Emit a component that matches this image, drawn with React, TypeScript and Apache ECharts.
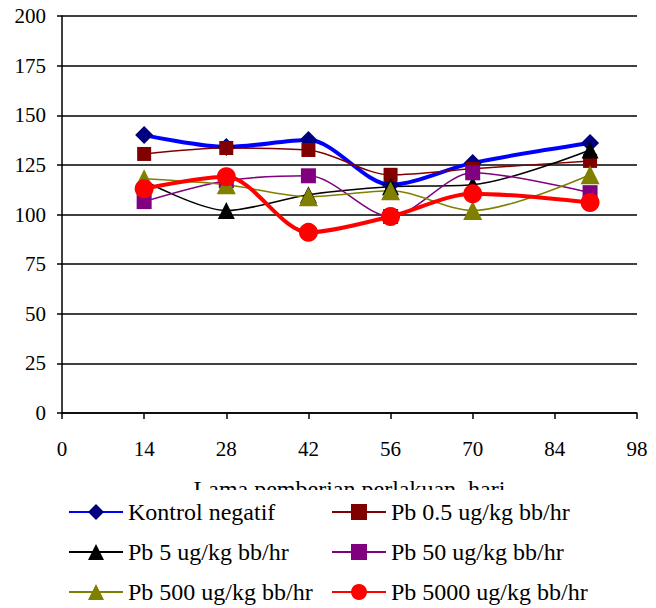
import React, { useEffect, useRef } from "react";
import * as echarts from "echarts";

const days = [14, 28, 42, 56, 70, 90];
const kontrolNegatif = [140, 134, 137.5, 115, 126, 136];
const pb05 = [130.5, 133.5, 132.5, 120, 123, 127];
const pb5 = [117, 102, 110, 114, 115, 132.5];
const pb50 = [106.5, 117, 119.5, 99, 121, 111];
const pb500 = [118, 115, 109, 112, 102, 120];
const pb5000 = [113, 119, 91, 99, 110.5, 106];

const seriesNames = [
  "Kontrol negatif",
  "Pb 0.5 ug/kg bb/hr",
  "Pb 5 ug/kg bb/hr",
  "Pb 50 ug/kg bb/hr",
  "Pb 500 ug/kg bb/hr",
  "Pb 5000 ug/kg bb/hr",
];
const xTitle = "Lama pemberian perlakuan, hari";

const FONT = "Liberation Serif";

export default function App() {
  const ref = useRef<HTMLDivElement>(null);
  useEffect(() => {
    if (!ref.current) return;
    const chart = echarts.init(ref.current, undefined, { renderer: "svg" });
    const pairs = (vals: number[]) => days.map((d, i) => [d, vals[i]]);
    const mk = (
      name: string,
      vals: number[],
      lineColor: string,
      markColor: string,
      symbol: string,
      size: number,
      width: number
    ) => ({
      name,
      type: "line",
      data: pairs(vals),
      smooth: 0.3,
      symbol,
      symbolSize: size,
      lineStyle: { color: lineColor, width },
      itemStyle: { color: markColor },
      emphasis: { disabled: true },
    });
    const legendBase = {
      orient: "vertical",
      itemWidth: 54,
      itemHeight: 20,
      itemGap: 16,
      padding: 0,
      textStyle: { fontFamily: FONT, fontSize: 24, color: "#000", lineHeight: 24 },
      selectedMode: false,
      z: 10,
    };
    chart.setOption({
      animation: false,
      textStyle: { fontFamily: FONT },
      grid: { left: 62, right: 19, top: 16, bottom: 195 },
      xAxis: {
        type: "value",
        min: 0,
        max: 98,
        interval: 14,
        name: xTitle,
        nameLocation: "middle",
        nameGap: 64,
        nameTextStyle: { fontFamily: FONT, fontSize: 24, color: "#000", verticalAlign: "top" },
        axisLine: { show: true, lineStyle: { color: "#000", width: 1.5 } },
        axisTick: { show: true, length: 6, lineStyle: { color: "#000", width: 1.5 } },
        axisLabel: { fontFamily: FONT, fontSize: 21, color: "#000", margin: 25 },
        splitLine: { show: false },
      },
      yAxis: {
        type: "value",
        min: 0,
        max: 200,
        interval: 25,
        axisLine: { show: true, lineStyle: { color: "#000", width: 1.5 } },
        axisTick: { show: true, length: 5, lineStyle: { color: "#000", width: 1.5 } },
        axisLabel: { fontFamily: FONT, fontSize: 21, color: "#000", margin: 16 },
        splitLine: { show: true, lineStyle: { color: "#000", width: 1.5 } },
      },
      graphic: [
        {
          type: "rect",
          left: 0,
          top: 490,
          shape: { width: 656, height: 118 },
          style: { fill: "#fff" },
          z: 5,
        },
      ],
      legend: [
        {
          ...legendBase,
          left: 68,
          top: 500,
          data: [seriesNames[0], seriesNames[2], seriesNames[4]],
        },
        {
          ...legendBase,
          left: 331,
          top: 500,
          data: [seriesNames[1], seriesNames[3], seriesNames[5]],
        },
      ],
      series: [
        mk(seriesNames[0], kontrolNegatif, "#0000FF", "#000080", "diamond", 18, 4),
        mk(seriesNames[1], pb05, "#800000", "#800000", "rect", 14, 1.5),
        mk(seriesNames[2], pb5, "#000000", "#000000", "triangle", 17, 1.5),
        mk(seriesNames[3], pb50, "#800080", "#800080", "rect", 15, 1.5),
        mk(seriesNames[4], pb500, "#808000", "#808000", "triangle", 19, 1.5),
        mk(seriesNames[5], pb5000, "#FF0000", "#FF0000", "circle", 19, 4),
      ],
    });
    return () => chart.dispose();
  }, []);
  return <div ref={ref} style={{ width: 656, height: 608, position: "absolute", left: 0, top: 0 }} />;
}
